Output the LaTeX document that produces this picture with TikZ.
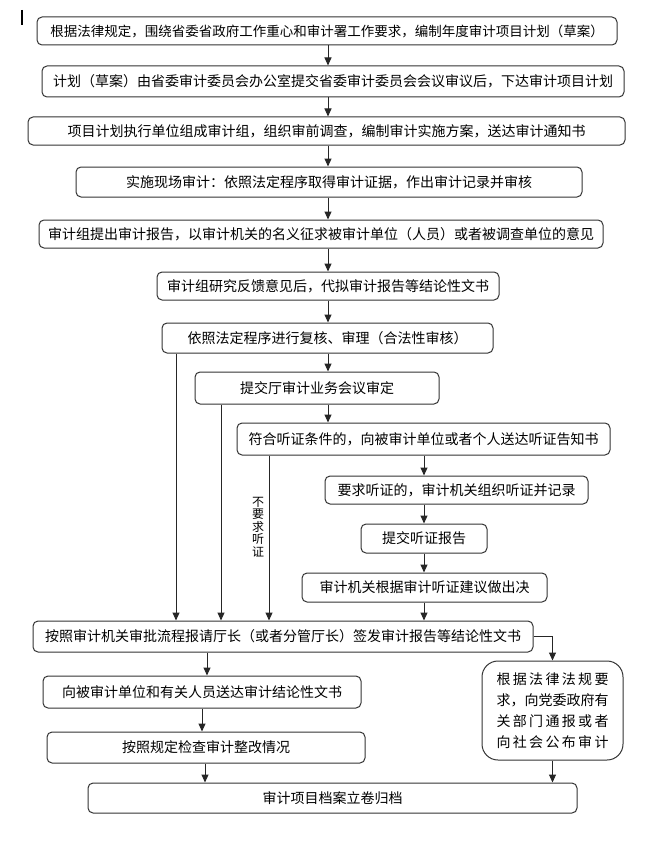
\documentclass[tikz,border=0pt]{standalone}
\usepackage{fontspec}
\setmainfont{Noto Sans CJK SC}
\usetikzlibrary{arrows.meta,calc}
\begin{document}
\begin{tikzpicture}[x=1pt,y=-1pt,
  box/.style={draw=black!80, line width=1pt, rounded corners=5pt, inner sep=0pt, text=black,
    font=\fontsize{14pt}{16pt}\selectfont},
  arr/.style={draw=black!85, line width=1pt, -{Triangle[length=8pt,width=7pt]}},
  lbl/.style={font=\fontsize{12pt}{12.5pt}\selectfont, align=center, inner sep=0pt}]
\useasboundingbox (0,0) rectangle (666,848);
% cursor mark
\draw[line width=2pt] (22,10) -- (22,25);
% boxes
\node[box, minimum width=580pt, minimum height=28pt, font=\fontsize{13.5pt}{16pt}\selectfont] (b1) at (327,31) {根据法律规定，围绕省委省政府工作重心和审计署工作要求，编制年度审计项目计划（草案）};
\node[box, minimum width=582pt, minimum height=31pt] (b2) at (333,81.5) {计划（草案）由省委审计委员会办公室提交省委审计委员会会议审议后，下达审计项目计划};
\node[box, minimum width=597pt, minimum height=28pt] (b3) at (326.5,131) {项目计划执行单位组成审计组，组织审前调查，编制审计实施方案，送达审计通知书};
\node[box, minimum width=506pt, minimum height=30pt] (b4) at (329,182) {实施现场审计：依照法定程序取得审计证据，作出审计记录并审核};
\node[box, minimum width=564pt, minimum height=28pt] (b5) at (321,234) {审计组提出审计报告，以审计机关的名义征求被审计单位（人员）或者被调查单位的意见};
\node[box, minimum width=342pt, minimum height=28pt] (b6) at (328,286) {审计组研究反馈意见后，代拟审计报告等结论性文书};
\node[box, minimum width=331pt, minimum height=30pt] (b7) at (327.5,338) {依照法定程序进行复核、审理（合法性审核）};
\node[box, minimum width=244pt, minimum height=32pt] (b8) at (317,388) {提交厅审计业务会议审定};
\node[box, minimum width=373pt, minimum height=32pt] (b9) at (423.5,439) {符合听证条件的，向被审计单位或者个人送达听证告知书};
\node[box, minimum width=263pt, minimum height=28pt] (b10) at (456.5,490) {要求听证的，审计机关组织听证并记录};
\node[box, minimum width=126pt, minimum height=29pt] (b11) at (424,538.5) {提交听证报告};
\node[box, minimum width=245pt, minimum height=29pt] (b12) at (424.5,587.5) {审计机关根据审计听证建议做出决};
\node[box, minimum width=500pt, minimum height=31pt] (b13) at (283,636.5) {按照审计机关审批流程报请厅长（或者分管厅长）签发审计报告等结论性文书};
\node[box, minimum width=318pt, minimum height=32pt] (b14) at (202,692) {向被审计单位和有关人员送达审计结论性文书};
\node[box, minimum width=318pt, minimum height=31pt] (b15) at (206,747.5) {按照规定检查审计整改情况};
\node[box, minimum width=489pt, minimum height=30pt] (b16) at (332.5,798) {审计项目档案立卷归档};
\node[box, rounded corners=16pt, minimum width=141pt, minimum height=99pt, align=center,
  font=\fontsize{14pt}{21pt}\selectfont] (b17) at (552.5,710.5)
  {\hbox to 112pt{根\hfil 据\hfil 法\hfil 律\hfil 法\hfil 规\hfil 要}\\
   \hbox to 112pt{求\hfil ，\hfil 向\hfil 党\hfil 委\hfil 政\hfil 府\hfil 有}\\
   \hbox to 112pt{关\hfil 部\hfil 门\hfil 通\hfil 报\hfil 或\hfil 者}\\
   \hbox to 112pt{向\hfil 社\hfil 会\hfil 公\hfil 布\hfil 审\hfil 计}};
\node[lbl] (nolisten) at (258,527) {不\\要\\求\\听\\证};
% x positions of connectors
\coordinate (xm) at (328,0);
\coordinate (xh) at (424,0);
\coordinate (xa) at (176,0);
\coordinate (xb) at (221,0);
\coordinate (xc) at (269,0);
\coordinate (xl1) at (207,0);
\coordinate (xl2) at (202,0);
\coordinate (xl3) at (205,0);
% main trunk
\foreach \u/\v in {b1/b2,b2/b3,b3/b4,b4/b5,b5/b6,b6/b7,b7/b8,b8/b9}
  \draw[arr] (\u.south -| xm) -- (\v.north -| xm);
\foreach \u/\v in {b9/b10,b10/b11,b11/b12,b12/b13}
  \draw[arr] (\u.south -| xh) -- (\v.north -| xh);
% bypass lines
\draw[arr] (b7.south -| xa) -- (b13.north -| xa);
\draw[arr] (b8.south -| xb) -- (b13.north -| xb);
\draw[arr] (b9.south -| xc) -- (b13.north -| xc);
% lower part
\draw[arr] (b13.south -| xl1) -- (b14.north -| xl1);
\draw[arr] (b14.south -| xl2) -- (b15.north -| xl2);
\draw[arr] (b15.south -| xl3) -- (b16.north -| xl3);
\draw[arr] (b13.east) -| (b17.north);
\draw[arr] (b17.south) -- (b17.south |- b16.north);
\end{tikzpicture}
\end{document}
